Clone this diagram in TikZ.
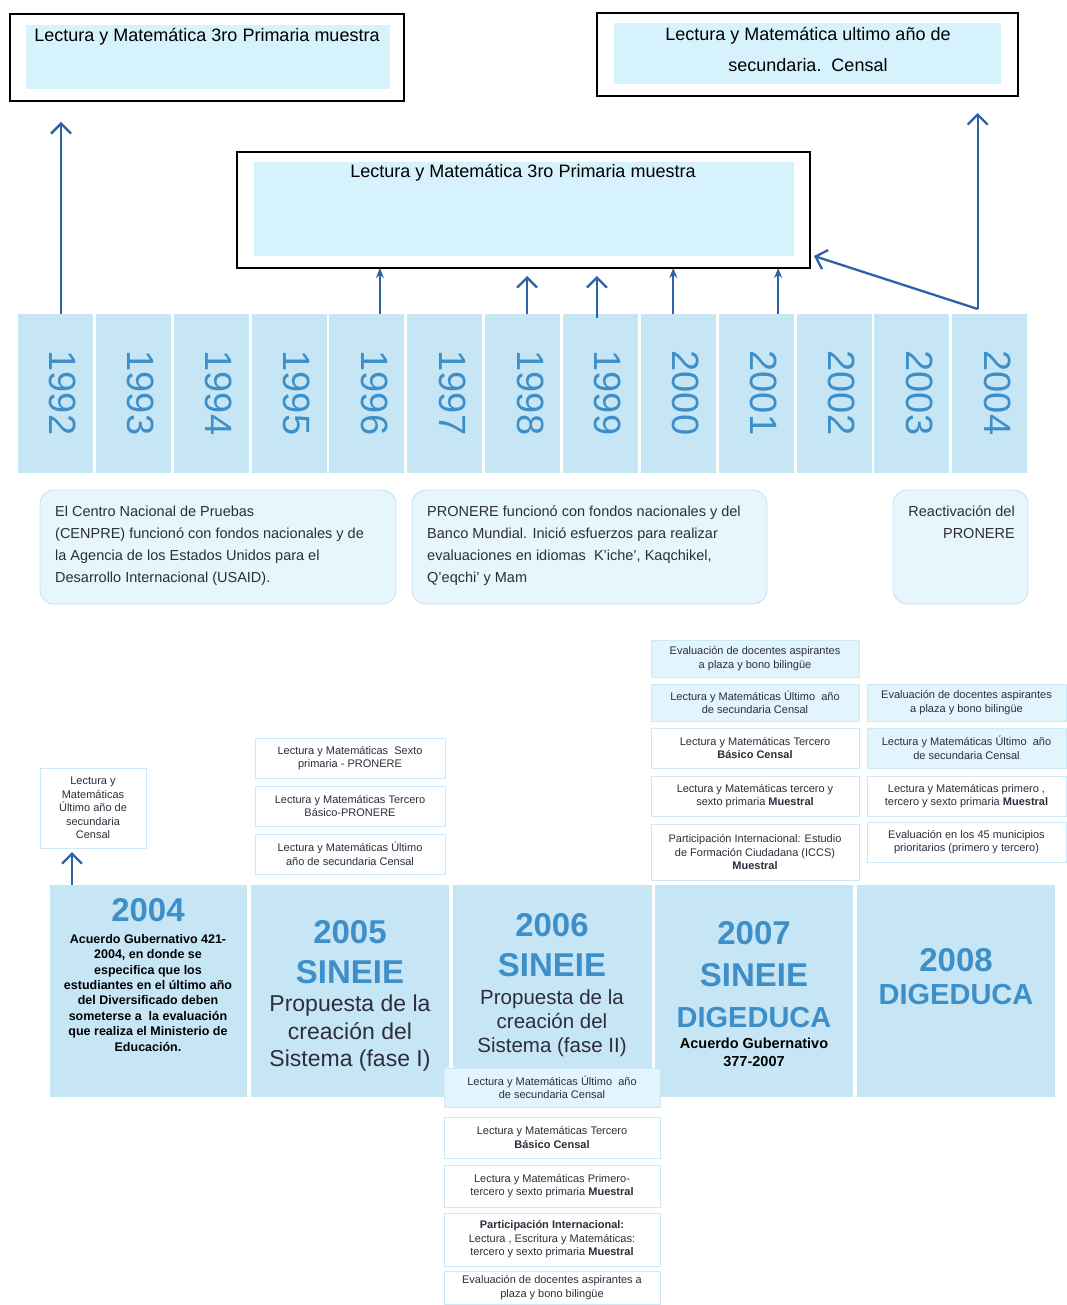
\documentclass[tikz,border=0pt]{standalone}
\usepackage{fontspec}
\setmainfont{Liberation Sans}
\usetikzlibrary{arrows.meta,calc}
\definecolor{colfill}{RGB}{198,230,246}
\definecolor{innerfill}{RGB}{214,242,252}
\definecolor{yearblue}{RGB}{62,143,200}
\definecolor{arrowblue}{RGB}{46,98,166}
\definecolor{sboxline}{RGB}{205,232,246}
\definecolor{sboxfill}{RGB}{226,244,252}
\definecolor{rboxfill}{RGB}{230,246,252}
\definecolor{rboxline}{RGB}{196,228,244}
\definecolor{txtdark}{RGB}{45,45,60}
\newcommand\fs[2]{\fontsize{#1}{#2}\selectfont}
\newcommand\tbox[7]{\node[rect,#6,minimum width={(#4-#2)*1pt},minimum height={(#5-#3)*1pt}] (#1) at ({(#2+#4)/2},{(#3+#5)/2}) {#7};}
\tikzset{
  rect/.style={inner sep=0pt, outer sep=0pt},
  topouter/.style={draw=black, line width=1.6pt, fill=white},
  topinner/.style={fill=innerfill},
  toptext/.style={font=\fs{18}{31}, text=black, inner sep=0pt},
  yearcol/.style={fill=colfill},
  yeartxt/.style={rotate=-90, text=yearblue, font=\fs{38}{38}, inner sep=0pt},
  rbox/.style={draw=rboxline, line width=0.9pt, fill=rboxfill, rounded corners=14pt},
  rtext/.style={font=\fs{14.5}{22}, text=txtdark, inner sep=0pt},
  sbox/.style={draw=sboxline, line width=0.7pt, fill=white, align=center, font=\fs{11}{13.5}, text=txtdark},
  sboxf/.style={sbox, fill=sboxfill},
  bigblock/.style={fill=colfill},
  bigyear/.style={font=\fs{33}{36}\bfseries, text=yearblue, inner sep=0pt},
  bigname/.style={font=\fs{33}{36}\bfseries, text=yearblue, inner sep=0pt},
  bigdig/.style={font=\fs{29}{32}\bfseries, text=yearblue, inner sep=0pt},
  arr/.style={draw=arrowblue, line width=2.3pt, -{Straight Barb[length=10pt,width=20pt]}},
  arrthin/.style={draw=arrowblue, line width=2pt, -{Stealth[length=10pt,width=8pt]}},
}
\begin{document}
\begin{tikzpicture}[x=1pt,y=-1pt]
\fill[white] (0,0) rectangle (1066,1305);
\useasboundingbox (0,0) rectangle (1066,1305);

% ---- top boxes
\tbox{tl}{10}{14}{404}{101}{topouter}{}
\tbox{tli}{26}{25}{390}{89}{topinner}{}
\node[toptext, anchor=base] (tlt) at (207,42) {Lectura y Matemática 3ro Primaria muestra};

\tbox{tr}{597}{13}{1018}{96}{topouter}{}
\tbox{tri}{614}{23}{1001}{84}{topinner}{}
\node[toptext, anchor=north, align=center] (trt) at (808,27) {Lectura y Matemática ultimo año de\\secundaria.\ \ Censal};

\tbox{mid}{237}{152}{810}{268}{topouter}{}
\tbox{midi}{254}{162}{794}{256}{topinner}{}
\node[toptext, anchor=base] (midt) at (523,178) {Lectura y Matemática 3ro Primaria muestra};

% ---- year columns
\foreach \yr [count=\i from 0] in {1992,1993,...,2004} {
  \pgfmathsetmacro\xl{18+\i*77.85}
  \node[rect, yearcol, minimum width=75pt, minimum height=159pt] (y\yr) at ({\xl+37.5},393.5) {};
  \node[yeartxt] (t\yr) at ({\xl+45},393) {\yr};
}

% ---- arrows from the years
\coordinate (a1992) at ([xshift=5.5pt]y1992.north);
\coordinate (a1996) at ([xshift=13pt]y1996.north);
\coordinate (a1998) at ([xshift=4.5pt]y1998.north);
\coordinate (a1999) at ([xshift=-3.5pt]y1999.north);
\coordinate (a2000) at ([xshift=-5pt]y2000.north);
\coordinate (a2001) at ([xshift=22pt]y2001.north);
\coordinate (a2004) at ([xshift=-12pt,yshift=5pt]y2004.north);
\coordinate (d2004) at ($(mid.south east)+(4,-12)$);
\draw[arr, shorten >=21pt] (a1992) -- (a1992 |- tl.south);
\draw[arrthin] (a1996) -- (a1996 |- mid.south);
\draw[arr, shorten >=8pt] (a1998) -- (a1998 |- mid.south);
\draw[arr, shorten >=8pt, shorten <=-4pt] (a1999) -- (a1999 |- mid.south);
\draw[arrthin] (a2000) -- (a2000 |- mid.south);
\draw[arrthin] (a2001) -- (a2001 |- mid.south);
\draw[arr, shorten >=17pt] (a2004) -- (a2004 |- tr.south);
\draw[arr] (a2004) -- (d2004);

% ---- rounded description boxes
\tbox{r1}{40}{490}{396}{604}{rbox}{}
\node[rtext, anchor=north west, align=left] (r1t) at (55,506) {El Centro Nacional de Pruebas\\(CENPRE) funcionó con fondos nacionales y de\\la Agencia de los Estados Unidos para el\\Desarrollo Internacional (USAID).};
\tbox{r2}{412}{490}{767}{604}{rbox}{}
\node[rtext, anchor=north west, align=left] (r2t) at (427,506) {PRONERE funcionó con fondos nacionales y del\\Banco Mundial. Inició esfuerzos para realizar\\evaluaciones en idiomas\ \ K'iche', Kaqchikel,\\Q'eqchi' y Mam};
\tbox{r3}{893}{490}{1028}{604}{rbox}{}
\node[rtext, anchor=north east, align=right] (r3t) at (1015,506) {Reactivación del\\PRONERE};

% ---- big year blocks
\tbox{b2004}{50}{885}{247}{1097}{bigblock}{}
\tbox{b2005}{251}{885}{449}{1097}{bigblock}{}
\tbox{b2006}{453}{885}{652}{1097}{bigblock}{}
\tbox{b2007}{655}{885}{853}{1097}{bigblock}{}
\tbox{b2008}{857}{885}{1055}{1097}{bigblock}{}

\node[bigyear] (n2004y) at (148,910) {2004};
\node[font=\fs{12.5}{15.4}\bfseries, text=black, align=center, anchor=north, inner sep=0pt] (n2004t) at (148,934)
 {Acuerdo Gubernativo 421-\\2004, en donde se\\especifica que los\\estudiantes en el último año\\del Diversificado deben\\someterse a\ \ la evaluación\\que realiza el Ministerio de\\Educación.};

\node[bigyear] (n2005y) at (350,932) {2005};
\node[bigname] (n2005s) at (350,972) {SINEIE};
\node[font=\fs{23}{27.5}, text=txtdark, align=center, anchor=north, inner sep=0pt] (n2005p) at (350,995)
 {Propuesta de la\\creación del\\Sistema (fase I)};

\node[bigyear] (n2006y) at (552,925) {2006};
\node[bigname] (n2006s) at (552,965) {SINEIE};
\node[font=\fs{20.5}{24}, text=txtdark, align=center, anchor=north, inner sep=0pt] (n2006p) at (552,989)
 {Propuesta de la\\creación del\\Sistema (fase II)};

\node[bigyear] (n2007y) at (754,933) {2007};
\node[bigname] (n2007s) at (754,975) {SINEIE};
\node[bigdig] (n2007d) at (754,1018) {DIGEDUCA};
\node[font=\fs{14.5}{18}\bfseries, text=black, align=center, anchor=north, inner sep=0pt] (n2007t) at (754,1038)
 {Acuerdo Gubernativo\\377-2007};

\node[bigyear] (n2008y) at (956,960) {2008};
\node[bigdig] (n2008d) at (956,995) {DIGEDUCA};

% ---- small boxes
\tbox{s2004}{40}{768}{146}{848}{sbox}{Lectura y\\Matemáticas\\Último año de\\secundaria\\Censal}
\coordinate (a2004b) at ([xshift=-76.5pt]b2004.north);
\draw[arr, shorten >=4pt] (a2004b) -- (a2004b |- s2004.south);

\tbox{s2005a}{255}{738}{445}{778}{sbox}{Lectura y Matemáticas\ \ Sexto\\primaria - PRONERE}
\tbox{s2005b}{255}{786}{445}{826}{sbox}{Lectura y Matemáticas Tercero\\Básico-PRONERE}
\tbox{s2005c}{255}{834}{445}{874}{sbox}{Lectura y Matemáticas Último\\año de secundaria Censal}

\tbox{s2007a}{651}{640}{859}{677}{sboxf}{Evaluación de docentes aspirantes\\a plaza y bono bilingüe}
\tbox{s2007b}{651}{684}{859}{721}{sboxf}{Lectura y Matemáticas Último\ \ año\\de secundaria Censal}
\tbox{s2007c}{651}{728}{859}{768}{sbox}{Lectura y Matemáticas Tercero\\\textbf{Básico Censal}}
\tbox{s2007d}{651}{776}{859}{816}{sbox}{Lectura y Matemáticas tercero y\\sexto primaria \textbf{Muestral}}
\tbox{s2007e}{651}{824}{859}{880}{sbox}{Participación Internacional: Estudio\\de Formación Ciudadana (ICCS)\\\textbf{Muestral}}

\tbox{s2008a}{867}{684}{1066}{721}{sboxf}{Evaluación de docentes aspirantes\\a plaza y bono bilingüe}
\tbox{s2008b}{867}{728}{1066}{768}{sboxf}{Lectura y Matemáticas Último\ \ año\\de secundaria Censal}
\tbox{s2008c}{867}{776}{1066}{816}{sbox}{Lectura y Matemáticas primero ,\\tercero y sexto primaria \textbf{Muestral}}
\tbox{s2008d}{867}{822}{1066}{862}{sbox}{Evaluación en los 45 municipios\\prioritarios (primero y tercero)}

\tbox{s2006a}{444}{1068}{660}{1107}{sboxf}{Lectura y Matemáticas Último\ \ año\\de secundaria Censal}
\tbox{s2006b}{444}{1117}{660}{1158}{sbox}{Lectura y Matemáticas Tercero\\\textbf{Básico Censal}}
\tbox{s2006c}{444}{1165}{660}{1207}{sbox}{Lectura y Matemáticas Primero-\\tercero y sexto primaria \textbf{Muestral}}
\tbox{s2006d}{444}{1213}{660}{1266}{sbox}{\textbf{Participación Internacional:}\\Lectura , Escritura y Matemáticas:\\tercero y sexto primaria \textbf{Muestral}}
\tbox{s2006e}{444}{1271}{660}{1304}{sbox}{Evaluación de docentes aspirantes a\\plaza y bono bilingüe}
\end{tikzpicture}
\end{document}
